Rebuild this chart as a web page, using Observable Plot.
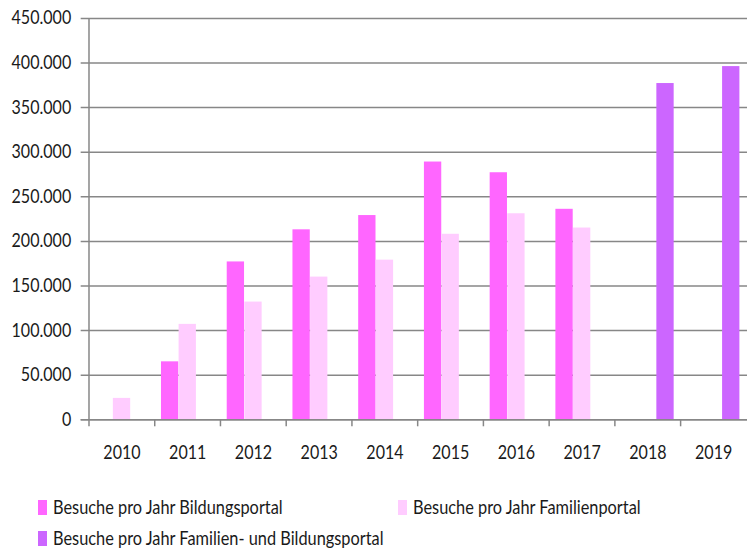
<!DOCTYPE html>
<html>
<head>
<meta charset="utf-8">
<script src="https://cdn.jsdelivr.net/npm/d3@7"></script>
<script src="https://cdn.jsdelivr.net/npm/@observablehq/plot@0.6"></script>
<style>
  html, body { margin: 0; padding: 0; background: #fff; overflow: hidden; }
  #wrap { position: relative; width: 747px; height: 549px; overflow: hidden;
          font-family: Lato, "Liberation Sans", sans-serif; color: #1a1a1a; }
  #chart { position: absolute; left: 0; top: 0; }
  .leg { position: absolute; display: flex; align-items: center; height: 16px; font-size: 19px; line-height: 16px; white-space: nowrap; }
  .sw { width: 9px; height: 15px; margin-right: 6px; flex: none; }
  .lt { display: inline-block; transform-origin: 0 50%; }
</style>
</head>
<body>
<div id="wrap">
  <div id="chart"></div>
  <div id="legend"></div>
</div>
<script>
const years = ["2010","2011","2012","2013","2014","2015","2016","2017","2018","2019"];
const bildungsportal = [null, 65000, 177000, 213000, 229000, 289000, 277000, 236000, null, null];
const familienportal = [24000, 107000, 132000, 160000, 179000, 208000, 231000, 215000, null, null];
const kombiniert = [null, null, null, null, null, null, null, null, 377000, 396000];
const seriesNames = [
  "Besuche pro Jahr Bildungsportal",
  "Besuche pro Jahr Familienportal",
  "Besuche pro Jahr Familien- und Bildungsportal"
];
const seriesColors = ["#FF66FF", "#FFCCFF", "#CC66FF"];
const yTicks = [0, 50000, 100000, 150000, 200000, 250000, 300000, 350000, 400000, 450000];

const seriesValues = [bildungsportal, familienportal, kombiniert];
const rows = [];
seriesValues.forEach((vals, s) => {
  vals.forEach((v, i) => { if (v != null) rows.push({year: years[i], value: v, series: s}); });
});

const fmt = d3.formatLocale({decimal: ",", thousands: ".", grouping: [3], currency: ["", " €"]}).format(",d");

const W = 750, H = 475, ML = 87, MR = 0, MT = 18, MB = 54;
const bw = (W - ML - MR) / years.length;       // band width
const groupFrac = 0.8;
const barW = bw * groupFrac / seriesNames.length;
const pad = bw * (1 - groupFrac) / 2;
const gridColor = "#878787";
const axisSqueeze = 0.85;
const legendSqueeze = 0.86;

const barMarks = seriesNames.map((name, s) =>
  Plot.barY(rows.filter(r => r.series === s), {
    x: "year", y: "value", fill: seriesColors[s],
    insetLeft: pad + s * barW,
    insetRight: bw - pad - (s + 1) * barW
  })
);

const chart = Plot.plot({
  width: W, height: H,
  marginLeft: ML, marginRight: MR, marginTop: MT, marginBottom: MB,
  x: {domain: years, padding: 0},
  y: {domain: [0, 450000]},
  style: {fontFamily: "Lato, 'Liberation Sans', sans-serif", fontSize: "19px", color: "#1a1a1a", background: "#fff", overflow: "visible"},
  marks: [
    Plot.ruleY(yTicks, {stroke: gridColor, strokeWidth: 1.5, insetLeft: -6}),
    ...barMarks,
    Plot.ruleY([0], {stroke: gridColor, strokeWidth: 1.5, insetLeft: -6}),
    Plot.ruleX([years[0]], {dx: -bw / 2, stroke: gridColor, strokeWidth: 1.5, insetBottom: -7}),
    Plot.ruleX(years.slice(1), {dx: -bw / 2, y1: 0, y2: 0, insetBottom: -7, stroke: gridColor, strokeWidth: 1.5}),
    Plot.axisY(yTicks, {tickSize: 0, tickPadding: 16, tickFormat: fmt, fill: "#1a1a1a", label: null}),
    Plot.axisX({tickSize: 0, tickPadding: 26, fill: "#1a1a1a", label: null})
  ]
});
document.getElementById("chart").appendChild(chart);

// narrow the axis texts horizontally to mimic the condensed look
chart.querySelectorAll("text").forEach(t => {
  const len = t.getComputedTextLength();
  if (len > 0) {
    t.setAttribute("textLength", (len * axisSqueeze).toFixed(2));
    t.setAttribute("lengthAdjust", "spacingAndGlyphs");
  }
});

// legend
const legendPos = [
  {left: 38, top: 499},
  {left: 398, top: 499},
  {left: 38, top: 530}
];
const legend = document.getElementById("legend");
seriesNames.forEach((name, s) => {
  const item = document.createElement("div");
  item.className = "leg";
  item.style.left = legendPos[s].left + "px";
  item.style.top = legendPos[s].top + "px";
  const sw = document.createElement("span");
  sw.className = "sw";
  sw.style.background = seriesColors[s];
  const t = document.createElement("span");
  t.className = "lt";
  t.style.transform = "scaleX(" + legendSqueeze + ")";
  t.textContent = name;
  item.appendChild(sw);
  item.appendChild(t);
  legend.appendChild(item);
});
</script>
</body>
</html>
